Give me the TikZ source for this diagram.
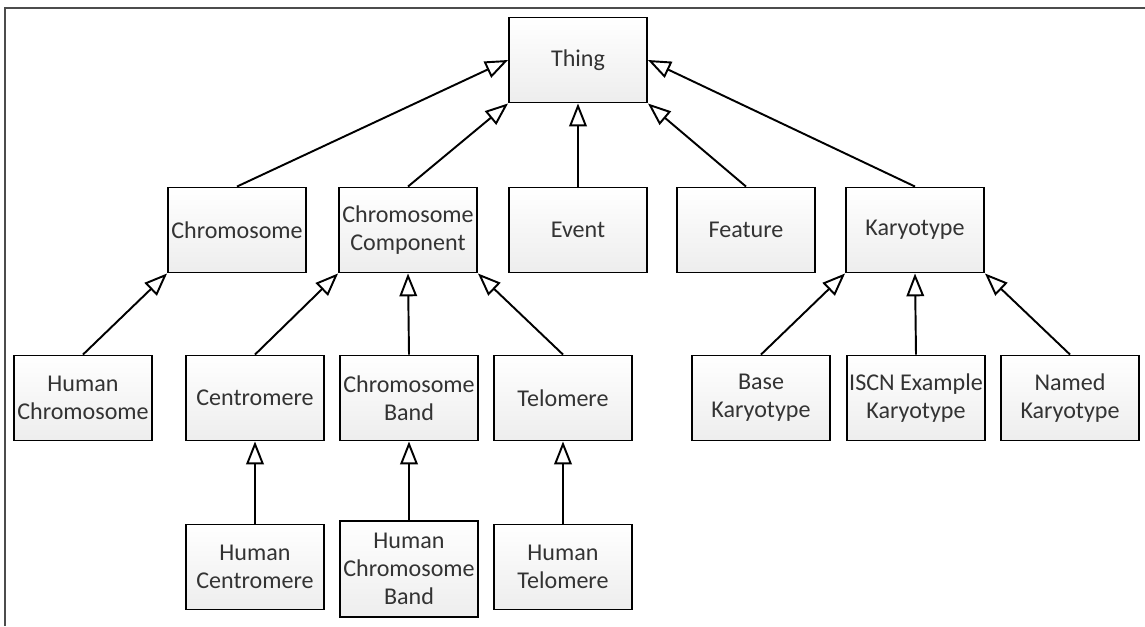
\documentclass[tikz,border=0pt]{standalone}
\usepackage{fontspec}
\setmainfont{Carlito}
\usetikzlibrary{arrows.meta,shadows}

\tikzset{
  classbox/.style={draw=black,line width=1.1pt,top color=white,bottom color=gray!14,
    minimum width=2.76cm,minimum height=1.7cm,align=center,text=black!80,
    font=\fontsize{13.7}{16}\selectfont,inner sep=1pt,
    drop shadow={shadow xshift=0.4pt,shadow yshift=-0.4pt,opacity=0.25}},
  isa/.style={-{Triangle[open,length=13pt,width=10pt,line width=1.1pt]},line width=1.1pt}
}

\begin{document}
\begin{tikzpicture}[x=0.02cm,y=-0.02cm]
\useasboundingbox (0,0) rectangle (1145,626);
\draw[gray!60!black,line width=1.3pt] (1145,8) -- (5,8) -- (5,626);

% top
\node[classbox] (thing) at (578,60) {Thing};

% second row
\node[classbox] (chrom) at (237,230) {Chromosome};
\node[classbox] (comp) at (408,230) {Chromosome\\Component};
\node[classbox] (event) at (578,230) {Event};
\node[classbox] (feature) at (746,230) {Feature};
\node[classbox] (karyo) at (915,230) {Karyotype};

% third row
\node[classbox] (humchrom) at (83,398) {Human\\Chromosome};
\node[classbox] (centro) at (255,398) {Centromere};
\node[classbox] (band) at (409,398) {Chromosome\\Band};
\node[classbox] (telo) at (563,398) {Telomere};
\node[classbox] (basek) at (761,398) {Base\\Karyotype};
\node[classbox] (iscnk) at (916,398) {ISCN Example\\Karyotype};
\node[classbox] (namedk) at (1070,398) {Named\\Karyotype};

% bottom row
\node[classbox] (humcentro) at (255,567) {Human\\Centromere};
\node[classbox,minimum height=1.92cm] (humband) at (409,569) {Human\\Chromosome\\Band};
\node[classbox] (humtelo) at (563,567) {Human\\Telomere};

\draw[isa] (chrom.north) -- (thing.west);
\draw[isa] (comp.north) -- (thing.south west);
\draw[isa] (event.north) -- (thing.south);
\draw[isa] (feature.north) -- (thing.south east);
\draw[isa] (karyo.north) -- (thing.east);

\draw[isa] (humchrom.north) -- (chrom.south west);
\draw[isa] (centro.north) -- (comp.south west);
\draw[isa] (band.north) -- (comp.south);
\draw[isa] (telo.north) -- (comp.south east);
\draw[isa] (basek.north) -- (karyo.south west);
\draw[isa] (iscnk.north) -- (karyo.south);
\draw[isa] (namedk.north) -- (karyo.south east);

\draw[isa] (humcentro.north) -- (centro.south);
\draw[isa] (humband.north) -- (band.south);
\draw[isa] (humtelo.north) -- (telo.south);
\end{tikzpicture}
\end{document}
